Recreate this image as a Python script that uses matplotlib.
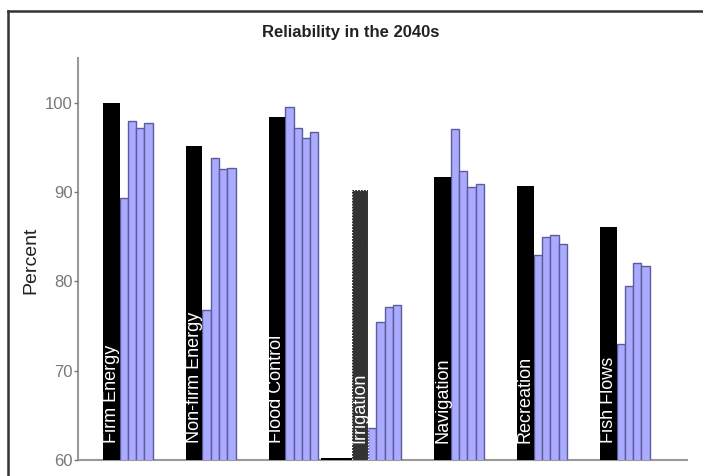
import numpy as np
import matplotlib
matplotlib.use("Agg")
import matplotlib.pyplot as plt
from matplotlib.lines import Line2D

plt.rcParams['font.family'] = ['Liberation Sans', 'DejaVu Sans']

# DATA
categories = ["Firm Energy", "Non-firm Energy", "Flood Control", "Irrigation",
              "Navigation", "Recreation", "Fish Flows"]
historical = [100.0, 95.1, 98.4, 90.2, 91.7, 90.7, 86.1]
scenario_1 = [89.3, 76.8, 99.5, 63.6, 97.1, 83.0, 73.0]
scenario_2 = [97.9, 93.8, 97.2, 75.4, 92.3, 85.0, 79.5]
scenario_3 = [97.2, 92.6, 96.1, 77.1, 90.6, 85.2, 82.1]
scenario_4 = [97.7, 92.7, 96.7, 77.4, 90.9, 84.2, 81.7]
scenarios = [scenario_1, scenario_2, scenario_3, scenario_4]

# thin black stub at the irrigation baseline
irrigation_stub = 60.25

# LAYOUT
group_step = 10
hist_width = 2
scen_width = 1
blue_face = "#aaaaff"
blue_edge = "#5c5c9c"

fig = plt.figure(figsize=(7.03, 4.76), dpi=100)
ax = fig.add_axes([78 / 703, 16 / 476, (687 - 78) / 703, (460 - 58) / 476])

x0 = np.arange(len(categories)) * group_step

# historical bars (irrigation drawn in dark grey)
hist_colors = ["black"] * len(categories)
hist_colors[3] = "#333333"
ax.bar(x0, historical, width=hist_width, align="edge", color=hist_colors,
       edgecolor="none", zorder=3)
ax.bar(x0[3], historical[3], width=hist_width, align="edge", fill=False,
       edgecolor="white", linestyle=":", linewidth=0.8, zorder=4)
ax.bar(x0[3] - 3.7, irrigation_stub, width=3.7, align="edge", color="black",
       edgecolor="none", zorder=3)

# scenario bars
for j, vals in enumerate(scenarios):
    ax.bar(x0 + hist_width + j * scen_width, vals, width=scen_width, align="edge",
           color=blue_face, edgecolor=blue_edge, linewidth=1.0, zorder=2)

# category names inside the black bars
for xi, name in zip(x0, categories):
    ax.text(xi + hist_width / 2, 61.9, name, rotation=90, color="white",
            ha="center", va="bottom", fontsize=13, zorder=5)

ax.set_xlim(-3.02, 70.5)
ax.set_ylim(60, 105)
ax.set_yticks([60, 70, 80, 90, 100])
ax.set_xticks([])
ax.tick_params(axis="y", colors="#777777", labelsize=12, length=3, width=1,
               direction="out", pad=1)
for s in ["top", "right"]:
    ax.spines[s].set_visible(False)
for s in ["left", "bottom"]:
    ax.spines[s].set_color("#999999")
    ax.spines[s].set_linewidth(1.5)
    ax.spines[s].set_zorder(1)

fig.text(31 / 703, 1 - 260 / 476, "Percent", rotation=90, ha="center",
         va="center", fontsize=14, color="#222222")
fig.text(351 / 703, 1 - 33 / 476, "Reliability in the 2040s", ha="center",
         va="center", fontsize=12, fontweight="bold", color="#222222")

# outer frame (left and top edges)
fig.add_artist(Line2D([8 / 703, 8 / 703], [0, 1 - 11 / 476],
                      transform=fig.transFigure, color="#333333", linewidth=1.8))
fig.add_artist(Line2D([8 / 703, 1], [1 - 11 / 476, 1 - 11 / 476],
                      transform=fig.transFigure, color="#333333", linewidth=1.8))

fig.savefig("out.png", dpi=100)
